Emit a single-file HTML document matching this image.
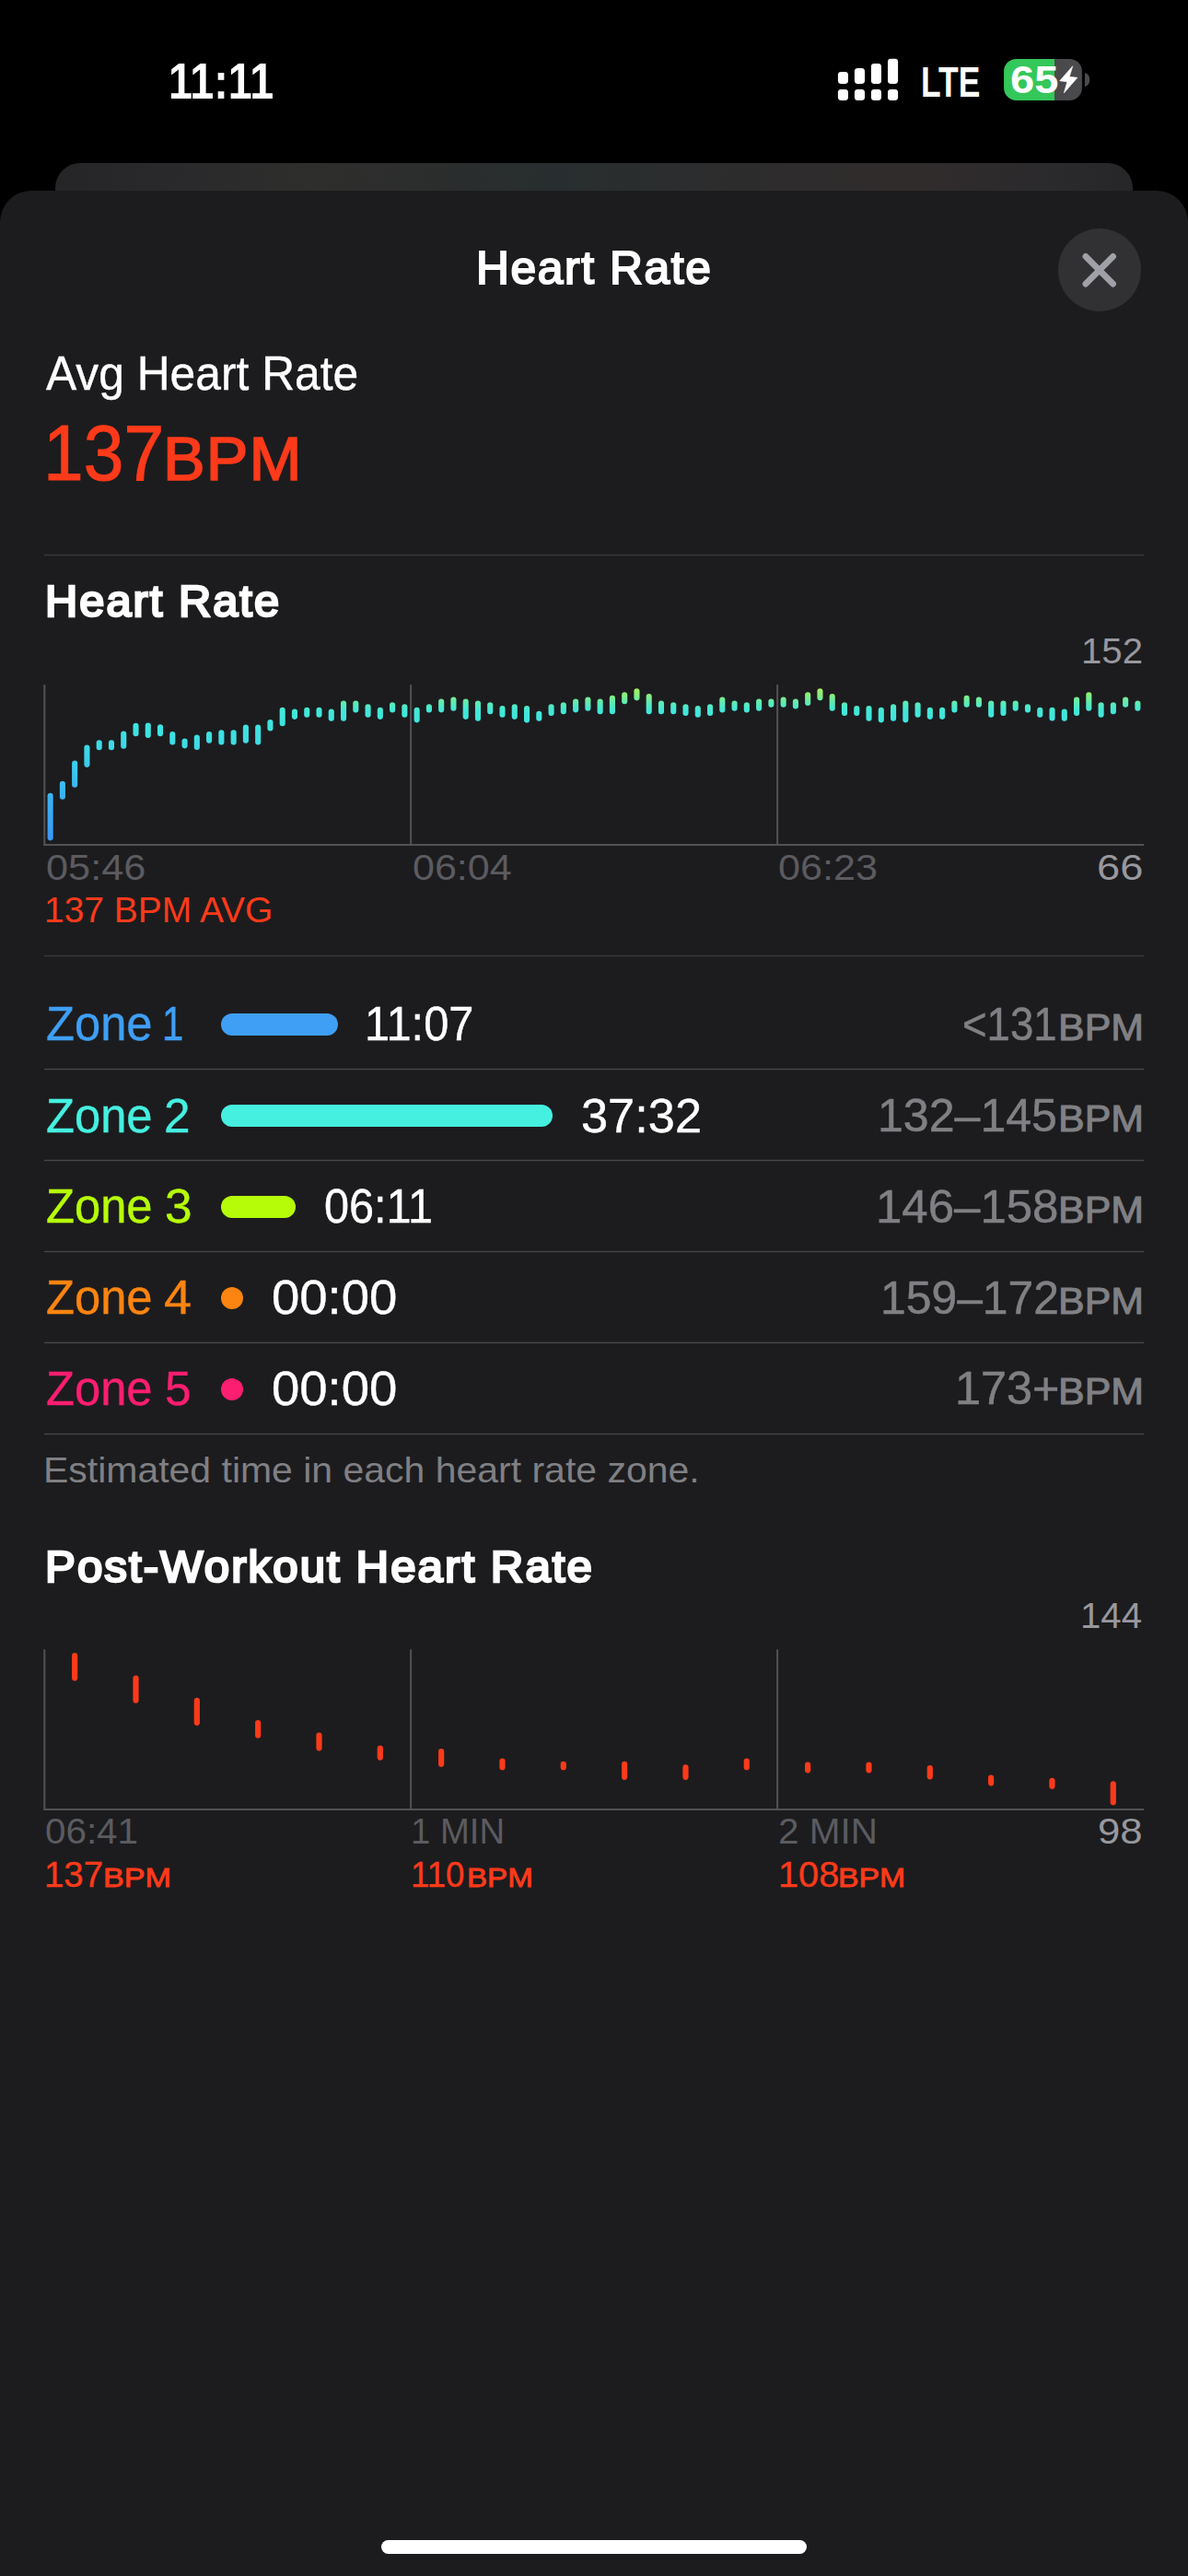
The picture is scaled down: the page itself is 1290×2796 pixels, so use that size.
<!DOCTYPE html>
<html lang="en"><head><meta charset="utf-8"><title>Heart Rate</title>
<style>
html,body{margin:0;padding:0;background:#000;}
body{width:1290px;height:2796px;position:relative;overflow:hidden;font-family:"Liberation Sans",sans-serif;}
.t{position:absolute;white-space:nowrap;line-height:1;transform-origin:0 50%;display:block;}
.back{position:absolute;left:60px;top:177px;width:1170px;height:120px;border-radius:27px 27px 0 0;background:linear-gradient(90deg,#252527 0%,#2a2a2c 12%,#2e2e2c 24%,#2b2d2d 36%,#282e2f 46%,#2b2d2e 56%,#2e2c2d 68%,#312c2c 80%,#2b2a2c 92%,#262628 100%);}
.sheet{position:absolute;left:0;top:207px;width:1290px;height:2589px;border-radius:34px 34px 0 0;background:#1c1c1e;}
.pill{position:absolute;height:24px;border-radius:12px;}
.close{position:absolute;left:1149px;top:248px;width:90px;height:90px;border-radius:50%;background:#313134;}
.home{position:absolute;left:414px;top:2757px;width:462px;height:15px;border-radius:8px;background:#fff;}
svg{position:absolute;left:0;top:0;}
</style></head><body>
<div class="back"></div>
<div class="sheet"></div>
<div class="close"></div>

<div class="pill" style="left:240px;top:1100px;width:127.0px;background:#3f9ff5"></div><div class="pill" style="left:240px;top:1199px;width:360.0px;background:#45f0e0"></div><div class="pill" style="left:240px;top:1298px;width:81.0px;background:#b6fc08"></div><div class="pill" style="left:240px;top:1397px;width:24.0px;background:#fc8410"></div><div class="pill" style="left:240px;top:1496px;width:24.0px;background:#fc1e70"></div>
<svg width="1290" height="2796" viewBox="0 0 1290 2796">
<defs>
<linearGradient id="hr" gradientUnits="userSpaceOnUse" x1="0" y1="745" x2="0" y2="915">
<stop offset="0.012" stop-color="#a8f05a"/><stop offset="0.06" stop-color="#86ee82"/><stop offset="0.10" stop-color="#62ebb0"/><stop offset="0.147" stop-color="#44e8d6"/><stop offset="0.235" stop-color="#3de4e0"/><stop offset="0.32" stop-color="#3ee0e2"/><stop offset="0.41" stop-color="#3dd6e8"/><stop offset="0.53" stop-color="#3cc8ee"/><stop offset="0.68" stop-color="#3bb4f1"/><stop offset="0.98" stop-color="#3a98f5"/>
</linearGradient>
</defs>
<!-- status icons -->
<g fill="#fff">
<rect x="909.9" y="77.9" width="11.1" height="13.1" rx="3.4"/><rect x="927.9" y="73.9" width="11.1" height="17.1" rx="3.4"/><rect x="945.9" y="68.9" width="11.1" height="22.1" rx="3.4"/><rect x="964" y="63.8" width="11.1" height="27.2" rx="3.4"/>
<rect x="909.9" y="96.9" width="11.1" height="12" rx="3.4"/><rect x="927.9" y="96.9" width="11.1" height="12" rx="3.4"/><rect x="945.9" y="96.9" width="11.1" height="12" rx="3.4"/><rect x="964" y="96.9" width="11.1" height="12" rx="3.4"/>
</g>
<clipPath id="bc"><rect x="1090.1" y="63.9" width="84.8" height="45.1" rx="13.5"/></clipPath>
<g clip-path="url(#bc)"><rect x="1089" y="63" width="56" height="47" fill="#34c759"/><rect x="1145" y="63" width="31" height="47" fill="#4a4a4c"/></g>
<path d="M1178 79.2 C1181.2 79.8 1183.2 82.4 1183.2 86.55 C1183.2 90.7 1181.2 93.3 1178 93.9 Z" fill="#4a4a4c"/>
<path d="M1164.8 71.7 L1150.7 87.8 L1158.8 88.8 L1155.3 101 L1169.9 84.3 L1161.3 83.3 Z" fill="#fff" stroke="#fff" stroke-width="0.6" stroke-linejoin="round"/>
<!-- close x -->
<g stroke="#a0a0a7" stroke-width="6.8" stroke-linecap="round"><path d="M1178.9 278.4 L1208.6 308.2 M1208.6 278.4 L1178.9 308.2"/></g>
<g fill="#4c4c4f"><rect x="48" y="601.8" width="1194" height="1.4" fill="#3a3a3d"/><rect x="48" y="1036.8" width="1194" height="1.4" fill="#3a3a3d"/><rect x="48" y="1159.8" width="1194" height="1.4" fill="#47474a"/><rect x="48" y="1258.8" width="1194" height="1.4" fill="#47474a"/><rect x="48" y="1357.8" width="1194" height="1.4" fill="#47474a"/><rect x="48" y="1456.7" width="1194" height="1.4" fill="#47474a"/><rect x="48" y="1555.8" width="1194" height="1.4" fill="#47474a"/></g>
<!-- chart 1 -->
<g fill="#525255"><rect x="47.3" y="743.2" width="2" height="174"/><rect x="445.1" y="743.2" width="2" height="174"/><rect x="843.1" y="743.2" width="2" height="174"/><rect x="47.3" y="916" width="1194.8" height="2"/></g>
<g fill="url(#hr)"><rect x="51.58" y="860.8" width="6.1" height="51.6" rx="3.05"/><rect x="64.85" y="847.7" width="6.1" height="20.1" rx="3.05"/><rect x="78.11" y="825.4" width="6.1" height="29.3" rx="3.05"/><rect x="91.38" y="808.5" width="6.1" height="24.4" rx="3.05"/><rect x="104.65" y="803.2" width="6.1" height="11.0" rx="3.05"/><rect x="117.92" y="803.2" width="6.1" height="11.0" rx="3.05"/><rect x="131.18" y="793.6" width="6.1" height="19.1" rx="3.05"/><rect x="144.45" y="784.8" width="6.1" height="14.5" rx="3.05"/><rect x="157.72" y="784.4" width="6.1" height="16.6" rx="3.05"/><rect x="170.98" y="786.2" width="6.1" height="13.1" rx="3.05"/><rect x="184.25" y="794.0" width="6.1" height="14.5" rx="3.05"/><rect x="197.52" y="801.4" width="6.1" height="11.0" rx="3.05"/><rect x="210.78" y="797.5" width="6.1" height="16.6" rx="3.05"/><rect x="224.05" y="794.0" width="6.1" height="12.7" rx="3.05"/><rect x="237.32" y="792.2" width="6.1" height="16.3" rx="3.05"/><rect x="250.58" y="792.2" width="6.1" height="16.3" rx="3.05"/><rect x="263.85" y="786.6" width="6.1" height="20.1" rx="3.05"/><rect x="277.12" y="786.6" width="6.1" height="21.9" rx="3.05"/><rect x="290.39" y="780.9" width="6.1" height="12.7" rx="3.05"/><rect x="303.65" y="767.8" width="6.1" height="20.5" rx="3.05"/><rect x="316.92" y="769.6" width="6.1" height="11.3" rx="3.05"/><rect x="330.19" y="767.8" width="6.1" height="11.0" rx="3.05"/><rect x="343.45" y="767.8" width="6.1" height="11.0" rx="3.05"/><rect x="356.72" y="769.6" width="6.1" height="13.1" rx="3.05"/><rect x="369.99" y="760.4" width="6.1" height="22.3" rx="3.05"/><rect x="383.25" y="760.4" width="6.1" height="13.1" rx="3.05"/><rect x="396.52" y="764.3" width="6.1" height="14.5" rx="3.05"/><rect x="409.79" y="767.8" width="6.1" height="13.1" rx="3.05"/><rect x="423.06" y="762.2" width="6.1" height="11.3" rx="3.05"/><rect x="436.32" y="764.3" width="6.1" height="14.5" rx="3.05"/><rect x="449.59" y="767.8" width="6.1" height="16.6" rx="3.05"/><rect x="462.86" y="764.3" width="6.1" height="9.2" rx="3.05"/><rect x="476.12" y="758.6" width="6.1" height="14.8" rx="3.05"/><rect x="489.39" y="756.5" width="6.1" height="15.2" rx="3.05"/><rect x="502.66" y="758.6" width="6.1" height="22.3" rx="3.05"/><rect x="515.93" y="760.4" width="6.1" height="22.3" rx="3.05"/><rect x="529.19" y="762.2" width="6.1" height="13.1" rx="3.05"/><rect x="542.46" y="766.1" width="6.1" height="12.7" rx="3.05"/><rect x="555.73" y="764.3" width="6.1" height="16.6" rx="3.05"/><rect x="568.99" y="766.1" width="6.1" height="18.4" rx="3.05"/><rect x="582.26" y="771.7" width="6.1" height="11.0" rx="3.05"/><rect x="595.53" y="764.3" width="6.1" height="12.7" rx="3.05"/><rect x="608.79" y="762.2" width="6.1" height="13.1" rx="3.05"/><rect x="622.06" y="758.6" width="6.1" height="14.8" rx="3.05"/><rect x="635.33" y="756.5" width="6.1" height="15.2" rx="3.05"/><rect x="648.60" y="758.6" width="6.1" height="16.6" rx="3.05"/><rect x="661.86" y="754.7" width="6.1" height="20.5" rx="3.05"/><rect x="675.13" y="751.2" width="6.1" height="13.1" rx="3.05"/><rect x="688.40" y="747.3" width="6.1" height="13.1" rx="3.05"/><rect x="701.66" y="753.0" width="6.1" height="22.3" rx="3.05"/><rect x="714.93" y="760.4" width="6.1" height="14.8" rx="3.05"/><rect x="728.20" y="762.2" width="6.1" height="13.1" rx="3.05"/><rect x="741.46" y="764.3" width="6.1" height="12.7" rx="3.05"/><rect x="754.73" y="766.1" width="6.1" height="12.7" rx="3.05"/><rect x="768.00" y="764.3" width="6.1" height="12.7" rx="3.05"/><rect x="781.26" y="756.5" width="6.1" height="17.0" rx="3.05"/><rect x="794.53" y="760.4" width="6.1" height="11.3" rx="3.05"/><rect x="807.80" y="762.2" width="6.1" height="11.3" rx="3.05"/><rect x="821.07" y="758.6" width="6.1" height="13.1" rx="3.05"/><rect x="834.33" y="758.6" width="6.1" height="9.2" rx="3.05"/><rect x="847.60" y="756.5" width="6.1" height="11.3" rx="3.05"/><rect x="860.87" y="758.6" width="6.1" height="11.0" rx="3.05"/><rect x="874.13" y="751.2" width="6.1" height="14.8" rx="3.05"/><rect x="887.40" y="747.3" width="6.1" height="13.1" rx="3.05"/><rect x="900.67" y="753.0" width="6.1" height="18.7" rx="3.05"/><rect x="913.94" y="762.2" width="6.1" height="14.8" rx="3.05"/><rect x="927.20" y="766.1" width="6.1" height="11.0" rx="3.05"/><rect x="940.47" y="766.1" width="6.1" height="16.6" rx="3.05"/><rect x="953.74" y="767.8" width="6.1" height="16.6" rx="3.05"/><rect x="967.00" y="764.3" width="6.1" height="18.4" rx="3.05"/><rect x="980.27" y="760.4" width="6.1" height="24.0" rx="3.05"/><rect x="993.54" y="762.2" width="6.1" height="16.6" rx="3.05"/><rect x="1006.80" y="767.8" width="6.1" height="13.1" rx="3.05"/><rect x="1020.07" y="767.8" width="6.1" height="13.1" rx="3.05"/><rect x="1033.34" y="760.4" width="6.1" height="13.1" rx="3.05"/><rect x="1046.61" y="754.7" width="6.1" height="13.1" rx="3.05"/><rect x="1059.87" y="756.5" width="6.1" height="11.3" rx="3.05"/><rect x="1073.14" y="760.4" width="6.1" height="18.4" rx="3.05"/><rect x="1086.41" y="760.4" width="6.1" height="16.6" rx="3.05"/><rect x="1099.67" y="760.4" width="6.1" height="11.3" rx="3.05"/><rect x="1112.94" y="764.3" width="6.1" height="9.2" rx="3.05"/><rect x="1126.21" y="767.8" width="6.1" height="11.0" rx="3.05"/><rect x="1139.47" y="767.8" width="6.1" height="14.8" rx="3.05"/><rect x="1152.74" y="769.6" width="6.1" height="13.1" rx="3.05"/><rect x="1166.01" y="756.5" width="6.1" height="20.5" rx="3.05"/><rect x="1179.28" y="751.2" width="6.1" height="20.5" rx="3.05"/><rect x="1192.54" y="762.2" width="6.1" height="16.6" rx="3.05"/><rect x="1205.81" y="762.2" width="6.1" height="13.1" rx="3.05"/><rect x="1219.08" y="756.5" width="6.1" height="11.3" rx="3.05"/><rect x="1232.34" y="760.4" width="6.1" height="11.3" rx="3.05"/></g>
<!-- chart 2 -->
<g fill="#525255"><rect x="47.3" y="1790.2" width="2" height="174"/><rect x="445.1" y="1790.2" width="2" height="174"/><rect x="843.1" y="1790.2" width="2" height="174"/><rect x="47.3" y="1963" width="1194.8" height="2"/></g>
<g fill="#fd3a1a"><rect x="78.07" y="1794.0" width="6.2" height="30.4" rx="3.1"/><rect x="144.40" y="1818.4" width="6.2" height="30.1" rx="3.1"/><rect x="210.73" y="1842.8" width="6.2" height="30.1" rx="3.1"/><rect x="277.06" y="1866.9" width="6.2" height="19.7" rx="3.1"/><rect x="343.39" y="1880.6" width="6.2" height="19.8" rx="3.1"/><rect x="409.72" y="1894.4" width="6.2" height="16.3" rx="3.1"/><rect x="476.05" y="1898.0" width="6.2" height="19.8" rx="3.1"/><rect x="542.38" y="1908.6" width="6.2" height="12.7" rx="3.1"/><rect x="608.71" y="1911.7" width="6.2" height="9.6" rx="3.1"/><rect x="675.04" y="1911.7" width="6.2" height="20.2" rx="3.1"/><rect x="741.37" y="1915.3" width="6.2" height="16.6" rx="3.1"/><rect x="807.70" y="1908.6" width="6.2" height="12.7" rx="3.1"/><rect x="874.03" y="1912.4" width="6.2" height="12.0" rx="3.1"/><rect x="940.36" y="1912.4" width="6.2" height="12.0" rx="3.1"/><rect x="1006.69" y="1915.9" width="6.2" height="15.5" rx="3.1"/><rect x="1073.02" y="1926.4" width="6.2" height="12.0" rx="3.1"/><rect x="1139.35" y="1929.8" width="6.2" height="12.0" rx="3.1"/><rect x="1205.68" y="1933.3" width="6.2" height="26.0" rx="3.1"/></g>
</svg>
<span class="t " style="font-size:55.23px;color:#fff;font-weight:700;transform:scaleX(0.8449);left:182.78px;top:61.25px;">11:11</span>
<span class="t " style="font-size:46.51px;color:#fff;font-weight:700;transform:scaleX(0.7618);left:999.71px;top:65.73px;">LTE</span>
<span class="t " style="font-size:43.02px;color:#fff;font-weight:700;transform:scaleX(1.0943);left:1096.73px;top:65.08px;">65</span>
<span class="t " style="font-size:49.13px;color:#fff;letter-spacing:1.6px;transform:scaleX(1.0114);left:517.30px;top:267.11px;-webkit-text-stroke:2px #fff;">Heart Rate</span>
<span class="t " style="font-size:51.16px;color:#fff;transform:scaleX(0.9726);left:50.18px;top:380.39px;-webkit-text-stroke:0.4px #fff;">Avg Heart Rate</span>
<span class="t " style="font-size:85.76px;color:#fd3a1a;transform:scaleX(0.9162);left:47.11px;top:449.21px;-webkit-text-stroke:1px #fd3a1a;">137</span>
<span class="t " style="font-size:65.99px;color:#fd3a1a;letter-spacing:1px;transform:scaleX(1.0377);left:177.15px;top:465.34px;-webkit-text-stroke:1.6px #fd3a1a;">BPM</span>
<span class="t " style="font-size:48.26px;color:#fff;letter-spacing:2px;transform:scaleX(1.0107);left:48.58px;top:628.45px;-webkit-text-stroke:2.6px #fff;">Heart Rate</span>
<span class="t " style="font-size:38.52px;color:#98989e;transform:scaleX(1.0435);left:1173.99px;top:688.39px;">152</span>
<span class="t " style="font-size:39.24px;color:#5b5b60;transform:scaleX(1.1035);left:49.67px;top:921.78px;">05:46</span>
<span class="t " style="font-size:39.24px;color:#5b5b60;transform:scaleX(1.0967);left:447.68px;top:921.78px;">06:04</span>
<span class="t " style="font-size:39.24px;color:#5b5b60;transform:scaleX(1.0993);left:845.47px;top:921.78px;">06:23</span>
<span class="t " style="font-size:39.24px;color:#98989e;transform:scaleX(1.1520);left:1190.74px;top:921.78px;">66</span>
<span class="t " style="font-size:38.66px;color:#fd3a1a;transform:scaleX(1.0076);left:48.48px;top:969.47px;">137 BPM AVG</span>
<span class="t " style="font-size:51.45px;color:#3f9ff5;transform:scaleX(0.9856);left:50.05px;top:1086.24px;-webkit-text-stroke:0.4px #3f9ff5;">Zone </span>
<span class="t " style="font-size:51.45px;color:#3f9ff5;transform:scaleX(0.8178);left:175.64px;top:1086.24px;-webkit-text-stroke:0.4px #3f9ff5;">1</span>
<span class="t " style="font-size:51.45px;color:#fff;transform:scaleX(0.9479);left:396.14px;top:1086.24px;-webkit-text-stroke:0.4px #fff;">11:07</span>
<span class="t " style="font-size:50.87px;color:#808084;transform:scaleX(0.8948);left:1044.67px;top:1086.69px;-webkit-text-stroke:0.5px #808084;">&lt;131</span>
<span class="t " style="font-size:40.12px;color:#808084;transform:scaleX(1.0705);left:1149.46px;top:1095.54px;-webkit-text-stroke:1.0px #808084;">BPM</span>
<span class="t " style="font-size:51.45px;color:#45f0e0;transform:scaleX(0.9856);left:50.05px;top:1185.54px;-webkit-text-stroke:0.4px #45f0e0;">Zone </span>
<span class="t " style="font-size:51.45px;color:#45f0e0;transform:scaleX(0.9995);left:178.43px;top:1185.54px;-webkit-text-stroke:0.4px #45f0e0;">2</span>
<span class="t " style="font-size:51.45px;color:#fff;transform:scaleX(1.0180);left:631.34px;top:1185.54px;-webkit-text-stroke:0.4px #fff;">37:32</span>
<span class="t " style="font-size:50.87px;color:#808084;transform:scaleX(0.9845);left:953.49px;top:1185.99px;-webkit-text-stroke:0.5px #808084;">132–145</span>
<span class="t " style="font-size:40.12px;color:#808084;transform:scaleX(1.0705);left:1149.46px;top:1194.84px;-webkit-text-stroke:1.0px #808084;">BPM</span>
<span class="t " style="font-size:51.45px;color:#b6fc08;transform:scaleX(0.9856);left:50.05px;top:1284.24px;-webkit-text-stroke:0.4px #b6fc08;">Zone </span>
<span class="t " style="font-size:51.45px;color:#b6fc08;transform:scaleX(1.0352);left:178.60px;top:1284.24px;-webkit-text-stroke:0.4px #b6fc08;">3</span>
<span class="t " style="font-size:51.45px;color:#fff;transform:scaleX(0.9452);left:352.35px;top:1284.24px;-webkit-text-stroke:0.4px #fff;">06:11</span>
<span class="t " style="font-size:50.87px;color:#808084;transform:scaleX(1.0024);left:951.43px;top:1284.69px;-webkit-text-stroke:0.5px #808084;">146–158</span>
<span class="t " style="font-size:40.12px;color:#808084;transform:scaleX(1.0705);left:1149.46px;top:1293.54px;-webkit-text-stroke:1.0px #808084;">BPM</span>
<span class="t " style="font-size:51.45px;color:#fc8410;transform:scaleX(0.9856);left:50.05px;top:1383.24px;-webkit-text-stroke:0.4px #fc8410;">Zone </span>
<span class="t " style="font-size:51.45px;color:#fc8410;transform:scaleX(1.0506);left:178.38px;top:1383.24px;-webkit-text-stroke:0.4px #fc8410;">4</span>
<span class="t " style="font-size:51.45px;color:#fff;transform:scaleX(1.0595);left:294.72px;top:1383.24px;-webkit-text-stroke:0.4px #fff;">00:00</span>
<span class="t " style="font-size:50.87px;color:#808084;transform:scaleX(0.9799);left:956.21px;top:1383.69px;-webkit-text-stroke:0.5px #808084;">159–172</span>
<span class="t " style="font-size:40.12px;color:#808084;transform:scaleX(1.0705);left:1149.46px;top:1392.54px;-webkit-text-stroke:1.0px #808084;">BPM</span>
<span class="t " style="font-size:51.45px;color:#fc1e70;transform:scaleX(0.9856);left:50.05px;top:1481.84px;-webkit-text-stroke:0.4px #fc1e70;">Zone </span>
<span class="t " style="font-size:51.45px;color:#fc1e70;transform:scaleX(1.0024);left:178.94px;top:1481.84px;-webkit-text-stroke:0.4px #fc1e70;">5</span>
<span class="t " style="font-size:51.45px;color:#fff;transform:scaleX(1.0595);left:294.72px;top:1481.84px;-webkit-text-stroke:0.4px #fff;">00:00</span>
<span class="t " style="font-size:50.87px;color:#808084;transform:scaleX(0.9896);left:1037.47px;top:1482.29px;-webkit-text-stroke:0.5px #808084;">173+</span>
<span class="t " style="font-size:40.12px;color:#808084;transform:scaleX(1.0705);left:1149.46px;top:1491.14px;-webkit-text-stroke:1.0px #808084;">BPM</span>
<span class="t " style="font-size:39.24px;color:#808084;transform:scaleX(1.0440);left:46.72px;top:1575.98px;">Estimated time in each heart rate zone.</span>
<span class="t " style="font-size:48.26px;color:#fff;letter-spacing:2px;transform:scaleX(1.0204);left:48.74px;top:1675.95px;-webkit-text-stroke:2.6px #fff;">Post-Workout Heart Rate</span>
<span class="t " style="font-size:38.52px;color:#98989e;transform:scaleX(1.0435);left:1172.69px;top:1735.39px;">144</span>
<span class="t " style="font-size:38.52px;color:#5b5b60;transform:scaleX(1.0482);left:49.49px;top:1968.99px;">06:41</span>
<span class="t " style="font-size:38.52px;color:#5b5b60;transform:scaleX(0.9930);left:446.13px;top:1968.99px;">1 MIN</span>
<span class="t " style="font-size:38.52px;color:#5b5b60;transform:scaleX(1.0508);left:845.38px;top:1968.99px;">2 MIN</span>
<span class="t " style="font-size:38.52px;color:#98989e;transform:scaleX(1.1352);left:1191.92px;top:1968.99px;">98</span>
<span class="t " style="font-size:38.66px;color:#fd3a1a;transform:scaleX(0.9927);left:48.42px;top:2016.07px;-webkit-text-stroke:0.4px #fd3a1a;">137</span>
<span class="t " style="font-size:30.23px;color:#fd3a1a;transform:scaleX(1.1298);left:112.33px;top:2022.96px;-webkit-text-stroke:0.9px #fd3a1a;">BPM</span>
<span class="t " style="font-size:38.66px;color:#fd3a1a;transform:scaleX(0.9472);left:446.45px;top:2016.07px;-webkit-text-stroke:0.4px #fd3a1a;">110</span>
<span class="t " style="font-size:30.23px;color:#fd3a1a;transform:scaleX(1.0968);left:507.41px;top:2022.96px;-webkit-text-stroke:0.9px #fd3a1a;">BPM</span>
<span class="t " style="font-size:38.66px;color:#fd3a1a;transform:scaleX(1.0279);left:844.62px;top:2016.07px;-webkit-text-stroke:0.4px #fd3a1a;">108</span>
<span class="t " style="font-size:30.23px;color:#fd3a1a;transform:scaleX(1.1166);left:910.16px;top:2022.96px;-webkit-text-stroke:0.9px #fd3a1a;">BPM</span>
<div class="home"></div>
</body></html>
